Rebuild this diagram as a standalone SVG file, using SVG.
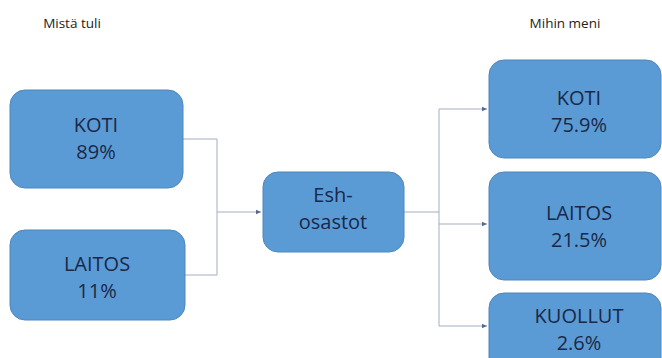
<svg xmlns="http://www.w3.org/2000/svg" width="662" height="358" viewBox="0 0 662 358">
<defs>
<style>
.box{fill:#5b9bd5;stroke:#4f86bb;stroke-width:1}
.t{font-family:"Open Sans","Liberation Sans",sans-serif;font-size:20px;fill:#1a2848;text-anchor:middle}
.h{font-family:"Open Sans","Liberation Sans",sans-serif;font-size:13.5px;fill:#222;text-anchor:middle}
.c{fill:none;stroke:#a3adc2;stroke-width:1}
</style>
<marker id="ah" markerWidth="6" markerHeight="6" refX="5" refY="3" orient="auto" markerUnits="userSpaceOnUse">
<path d="M0,0.8 L5,3 L0,5.2 Z" fill="#56698f"/>
</marker>
</defs>
<rect width="662" height="358" fill="#ffffff"/>
<text class="h" x="72" y="28">Mistä tuli</text>
<text class="h" x="565" y="28">Mihin meni</text>
<g id="connectors">
<path class="c" d="M183,139 H217 V275 H185"/>
<path class="c" d="M217,212 H261" marker-end="url(#ah)"/>
<path class="c" d="M404,212 H439"/>
<path class="c" d="M439,109 V326"/>
<path class="c" d="M439,109 H487" marker-end="url(#ah)"/>
<path class="c" d="M439,224 H487" marker-end="url(#ah)"/>
<path class="c" d="M439,326 H487" marker-end="url(#ah)"/>
</g>
<g id="src-koti">
<rect class="box" x="10" y="90" width="173" height="98" rx="15"/>
<text class="t" x="96" y="132">KOTI</text>
<text class="t" x="96" y="159">89%</text>
</g>
<g id="src-laitos">
<rect class="box" x="10" y="230" width="175" height="90" rx="15"/>
<text class="t" x="97" y="271">LAITOS</text>
<text class="t" x="97" y="298">11%</text>
</g>
<g id="esh">
<rect class="box" x="263" y="172" width="141" height="80" rx="15"/>
<text class="t" x="333" y="202">Esh-</text>
<text class="t" x="333" y="229">osastot</text>
</g>
<g id="dst-koti">
<rect class="box" x="489" y="60" width="172" height="98" rx="15"/>
<text class="t" x="579" y="105">KOTI</text>
<text class="t" x="579" y="132">75.9%</text>
</g>
<g id="dst-laitos">
<rect class="box" x="489" y="172" width="172" height="108" rx="15"/>
<text class="t" x="579" y="220">LAITOS</text>
<text class="t" x="579" y="247">21.5%</text>
</g>
<g id="dst-kuollut">
<rect class="box" x="489" y="293" width="172" height="80" rx="15"/>
<text class="t" x="579" y="323">KUOLLUT</text>
<text class="t" x="579" y="350">2.6%</text>
</g>
</svg>
